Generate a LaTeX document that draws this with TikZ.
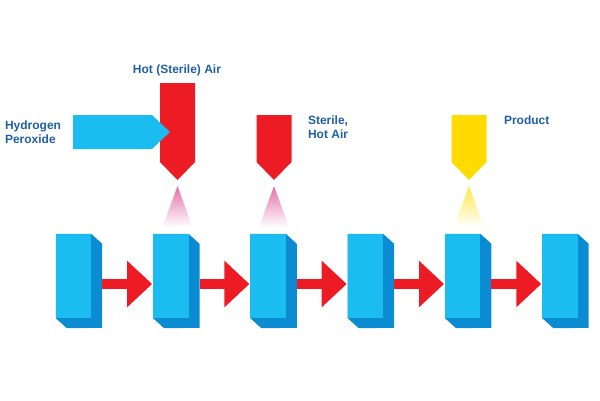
\documentclass[tikz,border=0pt]{standalone}
\usepackage{fontspec}
\setmainfont{Liberation Sans}
\usetikzlibrary{arrows.meta,positioning,calc}
\definecolor{boxblue}{HTML}{1BBDF0}
\definecolor{boxside}{HTML}{0B8CD2}
\definecolor{nozred}{HTML}{ED1C24}
\definecolor{nozyellow}{HTML}{FFDB00}
\definecolor{spraypink}{HTML}{E46FA8}
\definecolor{sprayyellow}{HTML}{FFE84A}
\definecolor{labelblue}{HTML}{2060A8}

\begin{document}
\begin{tikzpicture}[x=1pt,y=-1pt,
  station/.style={minimum width=35pt, minimum height=84pt, inner sep=0pt},
  flow/.style={draw=nozred, line width=10pt, -{Triangle[length=25pt,width=45pt]}},
  lbl/.style={font=\bfseries\fontsize{12}{14}\selectfont, text=labelblue, align=left}]
  \useasboundingbox (0,0) rectangle (600,400);

  % Stations (shaded depth, then front face)
  \foreach \i in {1,...,6} {
    \node[station] (s\i) at ({73.5+97.3*(\i-1)},276) {};
    \fill[boxside] (s\i.north west) -- (s\i.north east) -- ++(11,10) -- ++(0,84)
      -- ($(s\i.south west)+(11,10)$) -- (s\i.south west) -- cycle;
    \fill[boxblue] (s\i.north west) rectangle (s\i.south east);
  }

  % Transfer arrows
  \foreach \i/\j in {1/2,2/3,3/4,4/5,5/6} {
    \draw[flow] ([shift={(11,8)}]s\i.east) -- ([shift={(-1,8)}]s\j.west);
  }

  % Sprays
  \foreach \cx/\col in {177.5/spraypink, 274/spraypink, 469/sprayyellow} {
    \shade[top color=\col, bottom color=white] (\cx,186) -- ({\cx+15},227) -- ({\cx-15},227) -- cycle;
  }

  % Nozzles
  \foreach \cx/\ytop/\col in {177.5/83/nozred, 274/115/nozred, 469/115/nozyellow} {
    \fill[\col] ({\cx-17.5},\ytop) -- ({\cx+17.5},\ytop) -- ({\cx+17.5},162)
      -- (\cx,180) -- ({\cx-17.5},162) -- cycle;
  }

  % Hydrogen peroxide feed
  \fill[boxblue] (73,115) -- (152,115) -- (170,132) -- (152,149) -- (73,149) -- cycle;

  % Labels
  \node[lbl, anchor=west] (peroxide) at (1.5,132) {Hydrogen\\Peroxide};
  \node[lbl] (hotair) at (177,70) {Hot (Sterile) Air};
  \node[lbl, anchor=west] (sterile) at (304.5,127) {Sterile,\\Hot Air};
  \node[lbl, anchor=west] (product) at (500.5,120) {Product};
\end{tikzpicture}
\end{document}
